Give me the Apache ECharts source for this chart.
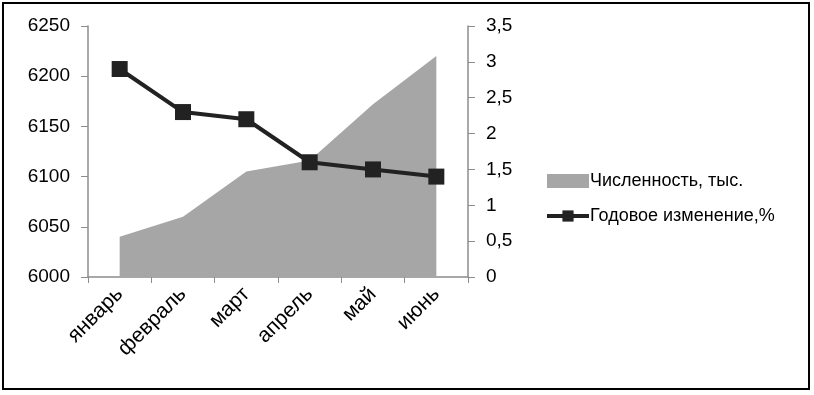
<!DOCTYPE html>
<html>
<head>
<meta charset="utf-8">
<script src="https://cdn.jsdelivr.net/npm/echarts@6/dist/echarts.min.js"></script>
<style>
  html, body { margin: 0; padding: 0; background: #fff; }
  #chart { width: 814px; height: 395px; }
</style>
</head>
<body>
<div id="chart"></div>
<script>
// месяцы
const months = ["январь", "февраль", "март", "апрель", "май", "июнь"];
// численность, тыс. (левая ось)
const population = [6040, 6060, 6105, 6116, 6172, 6220];
// годовое изменение, % (правая ось)
const yearChange = [2.9, 2.3, 2.2, 1.6, 1.5, 1.4];
const leftTicks = { min: 6000, max: 6250, step: 50 };
const rightTicks = { min: 0, max: 3.5, step: 0.5 };

const font = "Liberation Sans";
const axisGray = "#8c8c8c";

const chart = echarts.init(document.getElementById("chart"));
chart.setOption({
  animation: false,
  backgroundColor: "#fff",
  textStyle: { fontFamily: font },
  graphic: [
    {
      type: "rect",
      shape: { x: 3, y: 3, width: 806, height: 386 },
      style: { fill: "none", stroke: "#000", lineWidth: 2 },
    },
  ],
  grid: { left: 88, right: 346, top: 26, bottom: 118 },
  legend: {
    orient: "vertical",
    left: 540,
    top: 167,
    itemGap: 17,
    itemWidth: 42,
    itemHeight: 14,
    textStyle: { fontSize: 18, color: "#000", fontFamily: font, padding: [0, 0, 0, -4] },
    data: [
      { name: "Численность, тыс.", icon: "rect", itemStyle: { color: "#a6a6a6" } },
      { name: "Годовое изменение,%", lineStyle: { width: 4, color: "#222" } },
    ],
  },
  xAxis: {
    type: "category",
    data: months,
    boundaryGap: true,
    axisLine: { lineStyle: { color: axisGray, width: 1.5 } },
    axisTick: { show: true, length: 6, lineStyle: { color: axisGray } },
    axisLabel: {
      rotate: 45,
      fontSize: 21,
      color: "#000",
      margin: 14,
      interval: 0,
    },
  },
  yAxis: [
    {
      type: "value",
      position: "left",
      min: leftTicks.min,
      max: leftTicks.max,
      interval: leftTicks.step,
      splitLine: { show: false },
      axisLine: { show: true, lineStyle: { color: axisGray, width: 1.5 } },
      axisTick: { show: true, length: 7, lineStyle: { color: axisGray } },
      axisLabel: { fontSize: 19, color: "#000", margin: 18, formatter: (v) => String(v) },
    },
    {
      type: "value",
      position: "right",
      min: rightTicks.min,
      max: rightTicks.max,
      interval: rightTicks.step,
      splitLine: { show: false },
      axisLine: { show: true, lineStyle: { color: axisGray, width: 1.5 } },
      axisTick: { show: true, length: 7, lineStyle: { color: axisGray } },
      axisLabel: {
        fontSize: 19,
        color: "#000",
        margin: 18,
        formatter: (v) => String(v).replace(".", ","),
      },
    },
  ],
  series: [
    {
      name: "Численность, тыс.",
      type: "line",
      yAxisIndex: 0,
      data: population,
      symbol: "none",
      lineStyle: { width: 0 },
      itemStyle: { color: "#a6a6a6" },
      areaStyle: { color: "#a6a6a6", opacity: 1, origin: "start" },
      z: 1,
    },
    {
      name: "Годовое изменение,%",
      type: "line",
      yAxisIndex: 1,
      data: yearChange,
      symbol: "rect",
      symbolSize: 16,
      lineStyle: { color: "#222", width: 4 },
      itemStyle: { color: "#222" },
      z: 3,
    },
  ],
});
</script>
</body>
</html>
